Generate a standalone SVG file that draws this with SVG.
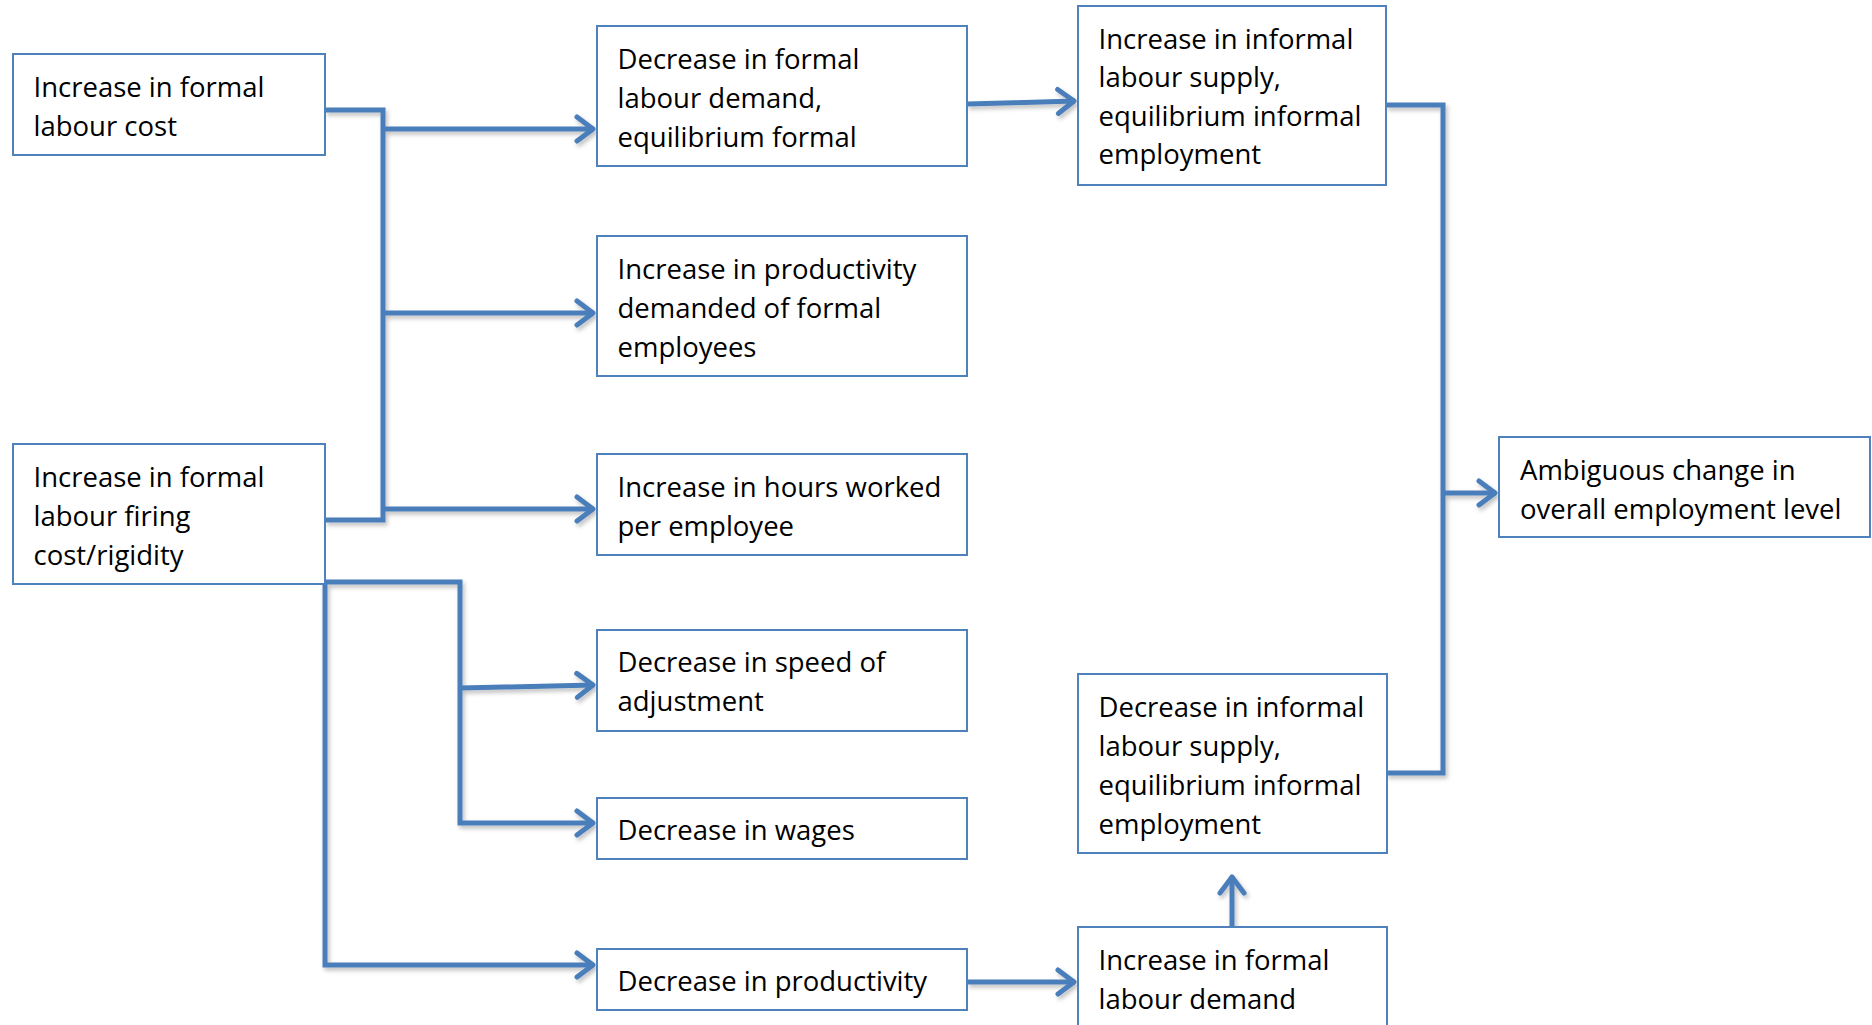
<svg xmlns="http://www.w3.org/2000/svg" width="1872" height="1025" viewBox="0 0 1872 1025">
<style>
.box{fill:#ffffff;stroke:#4f81bd;stroke-width:2}
.t{font-family:"Open Sans","Liberation Sans",sans-serif;font-size:27.5px;fill:#000000}
.c{fill:none;stroke:#4a7ebb;stroke-width:5;stroke-linejoin:miter}
</style>
<defs>
<filter id="sh" x="-10%" y="-10%" width="120%" height="120%">
<feDropShadow dx="2" dy="3" stdDeviation="2" flood-color="#000000" flood-opacity="0.25"/>
</filter>
<marker id="arr" markerUnits="userSpaceOnUse" markerWidth="40" markerHeight="40" viewBox="-30 -20 40 40" refX="0" refY="0" orient="auto" overflow="visible">
<path d="M-17,-12 L-1,0 L-17,12" fill="none" stroke="#4a7ebb" stroke-width="5" stroke-linecap="round" stroke-linejoin="round"/>
</marker>
</defs>
<rect width="1872" height="1025" fill="#ffffff"/>

<g id="connectors" filter="url(#sh)">
<path class="c" d="M325,110 H383 V520 H325"/>
<path class="c" d="M383,129 H594" marker-end="url(#arr)"/>
<path class="c" d="M383,313 H594" marker-end="url(#arr)"/>
<path class="c" d="M383,509 H594" marker-end="url(#arr)"/>
<path class="c" d="M325,582 H460 V823 H594" marker-end="url(#arr)"/>
<path class="c" d="M460,688 L594,685" marker-end="url(#arr)"/>
<path class="c" d="M325,582 V965 H594" marker-end="url(#arr)"/>
<path class="c" d="M967,104 L1075,101" marker-end="url(#arr)"/>
<path class="c" d="M967,982 H1075" marker-end="url(#arr)"/>
<path class="c" d="M1232,926 V876" marker-end="url(#arr)"/>
<path class="c" d="M1386,105 H1443 V773 H1386"/>
<path class="c" d="M1443,493 H1496" marker-end="url(#arr)"/>
</g>

<g id="n1">
<rect class="box" x="13" y="54" width="312" height="101"/>
<text class="t"><tspan x="33.5" y="97">Increase in formal</tspan><tspan x="33.5" y="136">labour cost</tspan></text>
</g>
<g id="n2">
<rect class="box" x="13" y="444" width="312" height="140"/>
<text class="t"><tspan x="33.5" y="487">Increase in formal</tspan><tspan x="33.5" y="526">labour firing</tspan><tspan x="33.5" y="565">cost/rigidity</tspan></text>
</g>
<g id="n3">
<rect class="box" x="597" y="26" width="370" height="140"/>
<text class="t"><tspan x="617.5" y="69">Decrease in formal</tspan><tspan x="617.5" y="108">labour demand,</tspan><tspan x="617.5" y="147">equilibrium formal</tspan></text>
</g>
<g id="n4">
<rect class="box" x="597" y="236" width="370" height="140"/>
<text class="t"><tspan x="617.5" y="279">Increase in productivity</tspan><tspan x="617.5" y="318">demanded of formal</tspan><tspan x="617.5" y="357">employees</tspan></text>
</g>
<g id="n5">
<rect class="box" x="597" y="454" width="370" height="101"/>
<text class="t"><tspan x="617.5" y="497">Increase in hours worked</tspan><tspan x="617.5" y="536">per employee</tspan></text>
</g>
<g id="n6">
<rect class="box" x="597" y="630" width="370" height="101"/>
<text class="t"><tspan x="617.5" y="672">Decrease in speed of</tspan><tspan x="617.5" y="711">adjustment</tspan></text>
</g>
<g id="n7">
<rect class="box" x="597" y="798" width="370" height="61"/>
<text class="t" x="617.5" y="840">Decrease in wages</text>
</g>
<g id="n8">
<rect class="box" x="597" y="949" width="370" height="61"/>
<text class="t" x="617.5" y="991">Decrease in productivity</text>
</g>
<g id="n9">
<rect class="box" x="1078" y="6" width="308" height="179"/>
<text class="t"><tspan x="1098.5" y="49">Increase in informal</tspan><tspan x="1098.5" y="87">labour supply,</tspan><tspan x="1098.5" y="126">equilibrium informal</tspan><tspan x="1098.5" y="164">employment</tspan></text>
</g>
<g id="n10">
<rect class="box" x="1078" y="674" width="309" height="179"/>
<text class="t"><tspan x="1098.5" y="717">Decrease in informal</tspan><tspan x="1098.5" y="756">labour supply,</tspan><tspan x="1098.5" y="795">equilibrium informal</tspan><tspan x="1098.5" y="834">employment</tspan></text>
</g>
<g id="n11">
<rect class="box" x="1078" y="927" width="309" height="110"/>
<text class="t"><tspan x="1098.5" y="970">Increase in formal</tspan><tspan x="1098.5" y="1009">labour demand</tspan></text>
</g>
<g id="n12">
<rect class="box" x="1499" y="437" width="371" height="100"/>
<text class="t"><tspan x="1520" y="480">Ambiguous change in</tspan><tspan x="1520" y="519">overall employment level</tspan></text>
</g>
</svg>
